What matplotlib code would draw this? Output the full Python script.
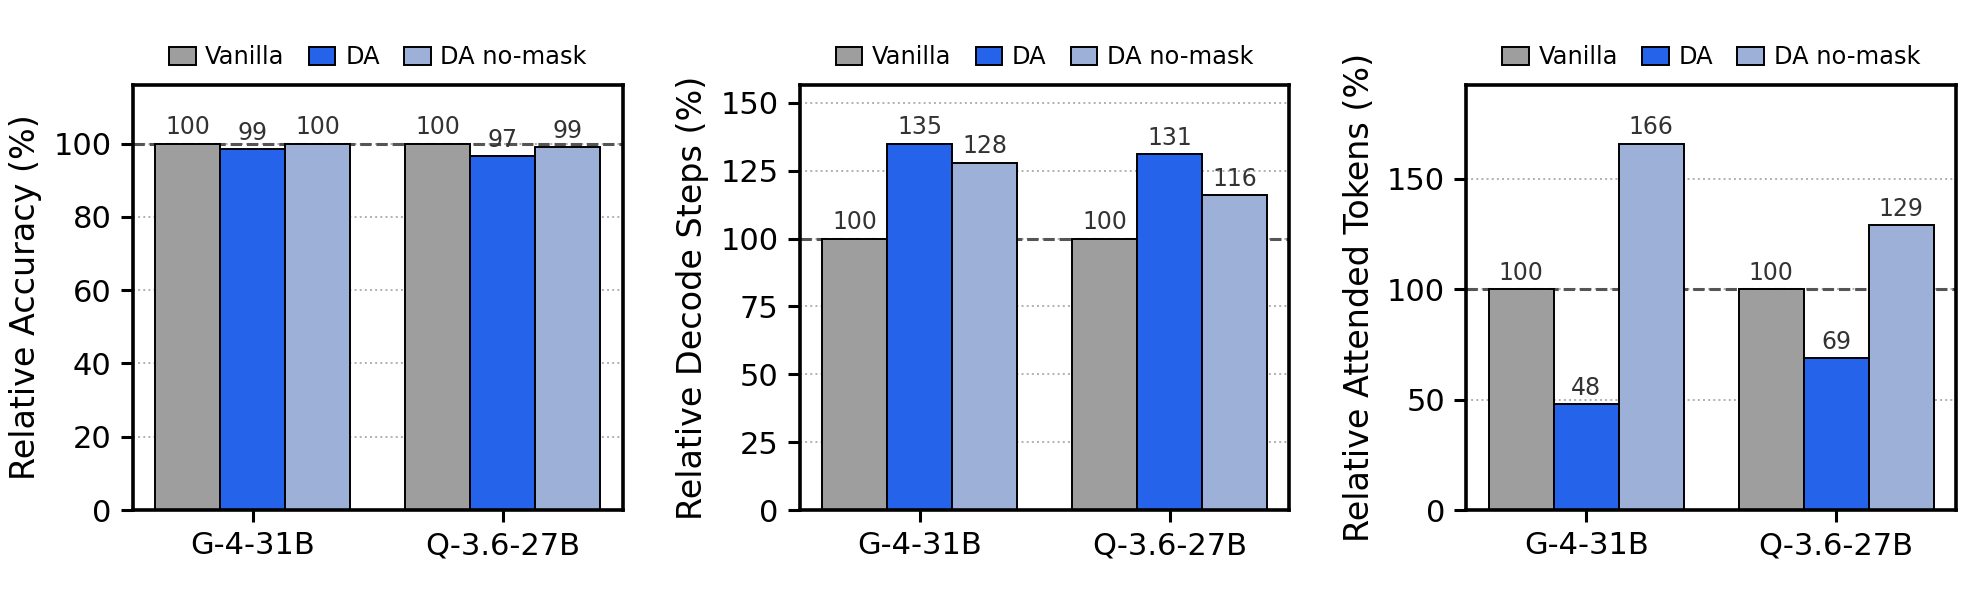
import matplotlib
matplotlib.use('Agg')
import matplotlib.pyplot as plt
import numpy as np

models = ['G-4-31B', 'Q-3.6-27B']
methods = ['Vanilla', 'DA', 'DA no-mask']
colors = ['#9e9e9e', '#2563eb', '#9db0d8']

accuracy = [[100, 100], [98.5, 96.5], [100, 99]]
acc_labels = [['100', '100'], ['99', '97'], ['100', '99']]
decode_steps = [[100, 100], [135, 131], [128, 116]]
attended = [[100, 100], [48, 69], [166, 129]]

ylabels = ['Relative Accuracy (%)', 'Relative Decode Steps (%)', 'Relative Attended Tokens (%)']
yticks = [np.arange(0, 101, 20), np.arange(0, 151, 25), np.arange(0, 151, 50)]

plt.rcParams['font.family'] = 'DejaVu Sans'

fig, axes = plt.subplots(1, 3, figsize=(9.815, 2.96), dpi=200)
fig.subplots_adjust(left=0.0678, right=0.9964, bottom=0.1385, top=0.8564, wspace=0.362)

x = np.arange(len(models))
w = 0.26

panels = [accuracy, decode_steps, attended]
for k, ax in enumerate(axes):
    data = panels[k]
    ymax = max(max(v) for v in data)
    ax.axhline(100, color='#555555', linestyle='--', linewidth=1.1, zorder=1)
    for i, m in enumerate(methods):
        bars = ax.bar(x + (i - 1) * w, data[i], w, color=colors[i], edgecolor='black',
                      linewidth=0.7, label=m, zorder=2)
        if k == 0:
            labs = acc_labels[i]
        else:
            labs = [f'{v:.0f}' for v in data[i]]
        ax.bar_label(bars, labels=labs, padding=1.5, fontsize=8.5, color='#333333')
    ax.set_ylim(0, ymax * 1.16)
    ax.set_yticks(yticks[k])
    ax.set_xticks(x)
    ax.set_xticklabels(models, fontsize=11)
    ax.tick_params(axis='y', labelsize=11)
    ax.tick_params(width=1.1, length=4.2)
    ax.set_ylabel(ylabels[k], fontsize=12)
    ax.yaxis.grid(True, linestyle=':', color='#b0b0b0', linewidth=0.7, zorder=0)
    ax.set_axisbelow(True)
    for s in ax.spines.values():
        s.set_linewidth(1.3)
    ax.legend(loc='lower center', bbox_to_anchor=(0.5, 1.0), ncol=3, frameon=False,
              fontsize=8.7, handlelength=1.1, handleheight=0.8, handletextpad=0.4,
              columnspacing=1.0, borderaxespad=0.25)

fig.savefig('out.png', dpi=200)
